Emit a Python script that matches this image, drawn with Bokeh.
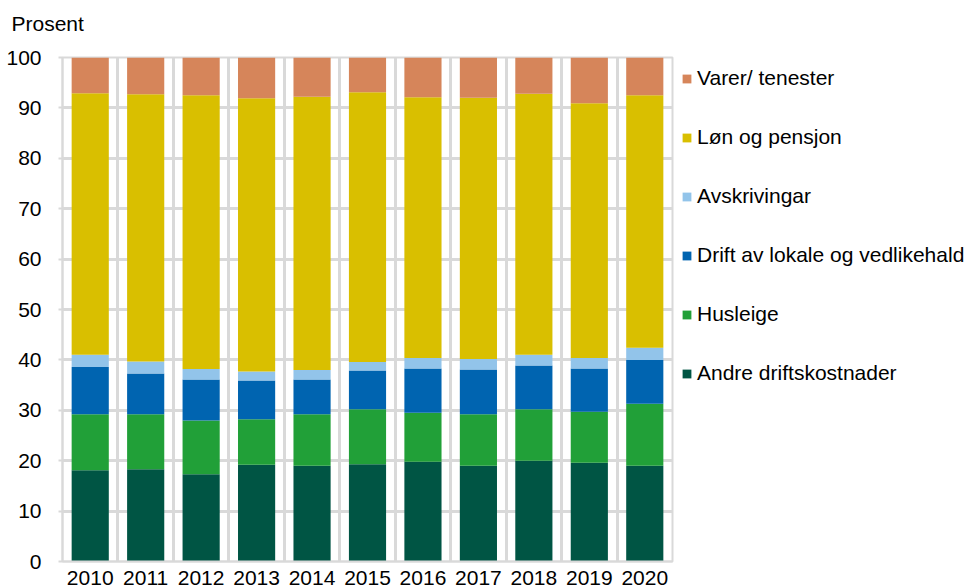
from bokeh.plotting import figure
from bokeh.models import FixedTicker, Legend, LegendItem, Range1d
from bokeh.embed import file_html
from bokeh.resources import INLINE

years = [2010, 2011, 2012, 2013, 2014, 2015, 2016, 2017, 2018, 2019, 2020]
andre = [18.1, 18.3, 17.3, 19.2, 19.0, 19.3, 19.8, 19.0, 20.0, 19.6, 19.0]
husleige = [11.1, 10.9, 10.7, 9.0, 10.2, 10.9, 9.7, 10.2, 10.2, 10.1, 12.3]
drift = [9.4, 8.1, 8.1, 7.7, 6.9, 7.7, 8.8, 8.9, 8.7, 8.6, 8.7]
avskrivingar = [2.4, 2.4, 2.1, 1.8, 1.9, 1.7, 2.1, 2.1, 2.1, 2.1, 2.4]
lon = [51.9, 53.0, 54.3, 54.2, 54.2, 53.5, 51.7, 51.8, 51.8, 50.5, 50.1]
varer = [7.1, 7.3, 7.5, 8.1, 7.8, 6.9, 7.9, 8.0, 7.2, 9.1, 7.5]

series_names = ["Andre driftskostnader", "Husleige", "Drift av lokale og vedlikehald",
                "Avskrivingar", "Løn og pensjon", "Varer/ tenester"]
series_vals = [andre, husleige, drift, avskrivingar, lon, varer]
colors = ["#005544", "#21A038", "#0064B0", "#92C4EA", "#D9BF00", "#D6855A"]
y_ticks = [0, 10, 20, 30, 40, 50, 60, 70, 80, 90, 100]
unit_label = "Prosent"

FONT = "Liberation Sans"
GRID = "#D9D9D9"

data = {"year": years}
keys = []
for i, vals in enumerate(series_vals):
    k = f"s{i}"
    keys.append(k)
    data[k] = vals

p = figure(frame_width=610, frame_height=504, output_backend="svg", toolbar_location=None,
           x_range=Range1d(years[0] - 0.5, years[-1] + 0.5), y_range=Range1d(0, 100),
           min_border_left=62, min_border_top=57, min_border_bottom=0, min_border_right=0)

renderers = p.vbar_stack(keys, x="year", width=0.67, color=colors, line_color=None, source=data)

p.title.text = unit_label + "\n "
p.title.text_font = FONT
p.title.text_font_size = "21px"
p.title.text_font_style = "normal"
p.title.text_color = "#000000"
p.title.align = "left"
p.title.offset = -51
p.title.standoff = 0

p.outline_line_color = GRID
p.outline_line_width = 2

p.xaxis.ticker = FixedTicker(ticks=years)
p.xaxis.major_tick_line_color = None
p.xaxis.major_tick_out = 0
p.xaxis.major_tick_in = 0
p.xaxis.minor_tick_line_color = None
p.xaxis.axis_line_color = GRID
p.xaxis.axis_line_width = 2
p.xaxis.major_label_text_font = FONT
p.xaxis.major_label_text_font_size = "21px"
p.xaxis.major_label_text_color = "#000000"
p.xaxis.major_label_standoff = 9

p.yaxis.ticker = FixedTicker(ticks=y_ticks)
p.yaxis.major_tick_line_color = GRID
p.yaxis.major_tick_line_width = 2
p.yaxis.major_tick_out = 4
p.yaxis.major_tick_in = 0
p.yaxis.minor_tick_line_color = None
p.yaxis.axis_line_color = GRID
p.yaxis.axis_line_width = 2
p.yaxis.major_label_text_font = FONT
p.yaxis.major_label_text_font_size = "21px"
p.yaxis.major_label_text_color = "#000000"
p.yaxis.major_label_standoff = 17

p.xgrid.ticker = FixedTicker(ticks=[y + 0.5 for y in years[:-1]])
p.xgrid.grid_line_color = GRID
p.xgrid.grid_line_width = 3
p.ygrid.ticker = FixedTicker(ticks=y_ticks)
p.ygrid.grid_line_color = GRID
p.ygrid.grid_line_width = 3

items = [LegendItem(label=series_names[i], renderers=[renderers[i]]) for i in reversed(range(6))]
legend = Legend(items=items, location="top_left", orientation="vertical",
                label_text_font=FONT, label_text_font_size="21px", label_text_color="#000000",
                glyph_width=11, glyph_height=11, spacing=35, padding=0, margin=9,
                border_line_color=None, background_fill_alpha=0, label_standoff=5)
p.add_layout(legend, "right")

open("out.html", "w").write(file_html(p, INLINE))
